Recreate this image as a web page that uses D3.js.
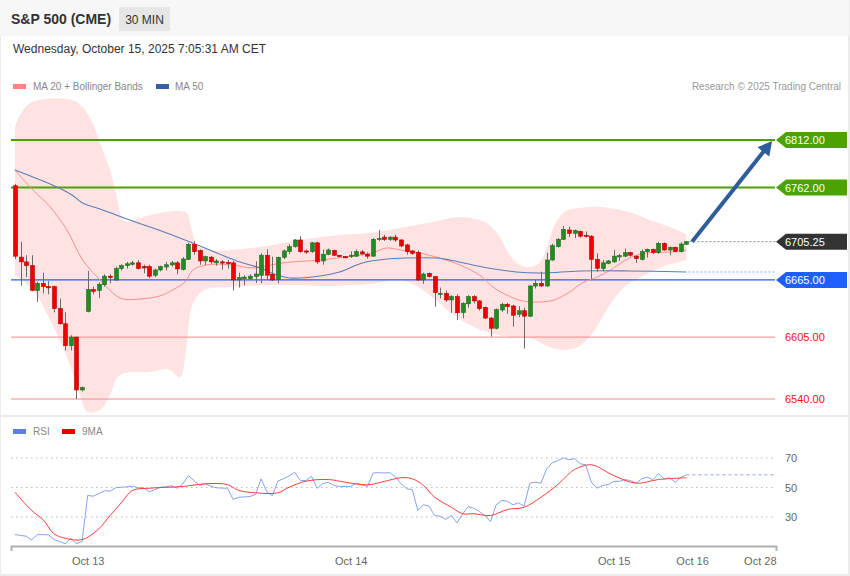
<!DOCTYPE html>
<html><head><meta charset="utf-8">
<script src="https://cdn.jsdelivr.net/npm/d3@7"></script>
<style>
html,body{margin:0;padding:0;background:#fff;}
svg{display:block;font-family:"Liberation Sans",Arial,sans-serif;}
</style></head><body>
<svg id="c" width="850" height="576"></svg>
<script>
// ---------- DATA ----------
const opens = [6764,6689,6684,6680,6654,6661.5,6658,6658,6635,6619,
6596,6605,6549.5,6632,6655,6654,6660,6669,6665,6677,
6680,6681.5,6683,6679,6679,6670,6675.5,6678.6,6680.8,6683,
6676,6686.6,6702.4,6695.8,6685,6689,6683,6684,6683.5,6683,
6665,6666.4,6666.4,6668.5,6670,6691,6671,6665.7,6688.8,6695,
6700,6707,6695.5,6694.7,6704,6685,6692,6696,6691,6689.5,
6690.5,6690,6694.5,6692,6690,6708,6710,6707.7,6710,6707,
6701.8,6695.5,6694,6665,6672,6668.5,6651,6651,6644,6647.5,
6630.7,6640,6647.5,6643,6636,6625,6614.3,6633.5,6639.5,6637.7,
6629,6632.7,6627,6658.7,6661.5,6658.7,6686,6700,6707.7,6717.5,
6714,6716,6712,6711,6686.7,6677,6682.5,6684,6690,6690,
6693.7,6690,6686.7,6694.7,6697,6693.7,6703.5,6696.5,6699.3,6694.7,6702.5];
const highs = [6766,6705,6691,6691,6663,6672.7,6664,6659,6645.5,6631,
6607,6605.5,6553,6674.5,6658,6662.6,6671,6671,6679,6681.5,
6684,6685,6686,6681,6681,6677,6680,6684,6685,6685,
6689,6704,6706,6697,6690.5,6690,6687,6686,6686,6685,
6672.6,6670,6671,6684.6,6693,6697,6689.5,6689.5,6697,6702.5,
6708,6711,6697,6705,6705,6697,6698,6697,6691,6690,
6695,6697,6696.5,6694,6709,6717.5,6712.5,6711,6712.5,6708,
6703,6696.5,6696,6672.6,6673,6669,6657,6654,6649,6650,
6641.5,6649,6649,6644,6637,6626,6635,6641,6641,6639,
6637.7,6636,6659.5,6665,6673.7,6693.7,6703,6709,6721.7,6721,
6718,6717,6716,6712,6693,6686,6686,6696.5,6692.5,6698,
6694.7,6691,6697,6698,6698,6705,6704.5,6700,6700,6704.5,6706];
const lows = [6687,6659,6668,6653,6642,6651,6650,6631,6618,6591,
6591,6540,6548,6631,6650,6646,6658,6661.5,6664,6675,
6677,6680,6676,6672,6667,6668,6674,6675,6679,6671,
6675,6686,6691.5,6681,6680.8,6682,6680,6676,6677,6654,
6657,6659.5,6665,6662,6661.5,6665,6664,6661.5,6687,6692,
6699,6693.5,6692.5,6693.5,6682,6681,6691,6690,6689,6688,
6688,6689,6691,6687.5,6689.5,6706,6706,6706,6705,6699.3,
6691.5,6691.5,6664,6661,6667.6,6637,6645.5,6642,6630.6,6623,
6624.8,6636,6640.5,6633,6624,6605.5,6613,6631.5,6629.5,6616,
6626,6593,6626,6656,6657.5,6657.5,6685,6699,6707,6710,
6709,6709.5,6709.5,6665.7,6673.7,6674,6681.5,6683,6685,6689,
6689.5,6683,6685.5,6688.5,6692.4,6692.4,6695.5,6691,6694,6694,6702];
const closes = [6690,6684,6680,6654,6661.5,6658,6657.5,6635,6619,6596,
6605,6549.5,6552,6655,6653,6660.5,6669,6667.5,6677,6680,
6682,6683,6677,6677.6,6669,6675.5,6679,6681,6683,6676.6,
6687,6702.4,6694.7,6685,6689.5,6684,6685,6683,6683,6665,
6667.6,6668,6669,6671.3,6691,6670,6665,6688.8,6695.5,6700,
6707,6694.7,6695,6704,6684,6692,6696.5,6691,6689.5,6689,
6691,6694.7,6692.4,6690,6707.7,6708.7,6707.7,6710,6707,6700.7,
6694.7,6693,6665,6671.3,6668.5,6651.7,6651,6644,6647.5,6630.6,
6640.5,6647.5,6643,6635,6625,6614.3,6634,6639.5,6637,6628,
6632.7,6627,6658.7,6661.5,6658.7,6686,6701,6707.7,6718.2,6714,
6716.8,6711,6711,6686.7,6677.3,6683,6685,6690,6690.5,6693.7,
6691,6687.4,6694.7,6697.2,6693.7,6703.5,6696.5,6699.3,6695,6702.8,6705.25];

// Moving averages / Bollinger bands (candle index position, price)
const ma20Pos = [0,3.2,6.3,9.3,12.1,15.2,17.5,19.3,22.3,25.9,28.2,30.4,31.8,34.3,38.9,42.5,47.9,54.5,60.4,63.9,66.4,68.8,72.3,75.9,79.5,83,85.4,87.9,90.7,93.8,96.4,99.1,101.4,104,106.3,109.8,112.9,117,120];
const ma20 = [6780.5,6759.5,6741.7,6717.5,6686,6665,6651.3,6645,6645,6648.2,6654.5,6663,6675.5,6680.8,6680.8,6677.6,6683,6686,6690.2,6693.4,6698.6,6696.5,6693.4,6688,6680.8,6670.3,6657.6,6649.2,6643,6641.9,6644,6652.4,6662,6668,6675,6688,6693.4,6694.4,6696.5];
const ma50Pos = [0,3.2,7.5,10.2,12.1,15.2,21,27.1,31.3,36.1,40.2,43.8,46.8,49.1,54.5,58,62.1,66.4,70,75.4,77.7,83.6,89.6,94.3,100.9,109.8,120];
const ma50 = [6780.5,6773.2,6762.7,6754.3,6745.9,6739.6,6727,6714.4,6704.9,6693.4,6683.9,6677.6,6670.3,6667.1,6669.2,6673.4,6682.9,6687,6688.1,6688.1,6686,6678.7,6673.4,6672.4,6674.5,6674.5,6673.4];
const upperPos = [0,0.9,2.7,5.4,9.3,11.1,12.1,13.9,15.2,17,18.2,19.1,20,22.3,25.9,29.5,30.7,31.6,32.5,34.8,43.8,50.9,58,63.4,68.8,74.6,79.5,83,84.8,86.6,88.4,90.2,92,93.8,95.2,96.4,98.2,100.9,104.5,109.8,113.4,117,120];
const upper = [6825.7,6838.3,6850.9,6855.1,6855.1,6852,6846.7,6829.9,6808.9,6780.5,6752.2,6731.2,6725.9,6730.1,6735.4,6737.5,6735.4,6717.5,6701.8,6696.5,6699.7,6707,6712.3,6714.4,6719.6,6726,6731.2,6728,6722.8,6710.2,6691.3,6680.8,6678.7,6684,6701.8,6722.8,6736.4,6740.6,6741.7,6736.4,6728,6720.7,6713];
const lowerPos = [0,3.2,6.3,9.3,11.6,13,15.2,17,18.2,19.6,24.1,27.5,29.5,30.7,31.3,32.1,33.9,38.4,47.3,56.3,63.4,68.8,71.4,74.1,77.7,81.3,84.8,88.4,92,95.5,98.2,100.9,103.6,106.3,108.9,112.5,116.1,120];
const lower = [6670,6654.5,6623,6584,6544,6526.3,6528.4,6544.2,6562.1,6567.3,6568.4,6571,6563,6598,6630,6643.5,6654.5,6657.6,6659.7,6658.7,6660.8,6665,6659.7,6649.2,6631.4,6617.7,6609.3,6605.1,6604,6594.6,6591.5,6595.7,6612.5,6638.7,6657.6,6670.3,6679.7,6686];

// Levels
const resistLevels = [6812, 6762];
const pivotLevel = 6665;
const supportLevels = [6605, 6540];
const lastPrice = 6705.25;
const arrowFrom = [121, 6705.25];
const arrowTo = [135.3, 6811];

// RSI
const rsi = [18.1,17.5,17,14.5,18.1,18,17.9,14.7,13.4,11.8,
15.6,11.8,13.4,44.6,44.1,45.8,47.8,47.5,49.8,50.2,
50.5,50.9,49.8,49.8,47.1,48.5,50.2,50.5,51.2,49.5,
52.5,58.1,54.7,51.4,52.5,50.9,49.8,49.6,49.5,41.9,
43.4,43.6,43.9,45.3,55.9,47.1,44.4,54.4,56,57.8,
60.3,54.7,54.7,57.6,49.5,52.5,53.6,51.4,50.7,50.7,
50.7,52.9,52,50.7,59.8,60.1,59.8,60.1,57.2,52.5,
49.1,48.6,34.4,38.3,37.3,31,30.5,28.3,31,26,
32.1,37.1,35.9,33.7,31,26.9,38.3,41.2,40.7,38.3,
39.6,37.3,52.9,53.6,52.9,62.6,66.7,68.2,70.1,68.8,
69.5,66.1,65.4,53.6,49.5,51.4,52,54.1,54.2,55.4,
54.7,52.9,55.9,57,55.3,59.3,55.9,56.6,53.6,57,58.6];
const rsiMaPos = [0,3,5,7,9,12,15,17,19,21,24,30,34,38,40,43,47,49,52,56,59,63,66,69,71,73,75,78,80,82,85,88,91,94,97,99,100,103,107,111,115,120];
const rsiMa = [46.8,34.4,28.3,18.6,15.6,14.7,22,31,39.6,48,49.5,50.7,52.5,52,48,46.4,46.4,50.2,54.3,55.4,53.6,51.8,54.1,56.6,55.9,51.4,43.4,36.6,32.2,32.2,31,35.1,36.6,43.4,52,59.3,62.2,65.4,58.1,52.9,55.4,56.6];
const rsiTicks = [70, 50, 30];

// X axis ticks (candle index positions)
const xTickPos = [13, 60, 107, 121, 136];
const xTickLabels = ["Oct 13", "Oct 14", "Oct 15", "Oct 16", "Oct 28"];

// ---------- DRAW ----------
const svg = d3.select("#c");
const W = 850, H = 576;
const X0 = 11, X1 = 776;

svg.append("rect").attr("width", W).attr("height", H).attr("fill", "#ebebeb");
svg.append("rect").attr("x", 0).attr("y", 0).attr("width", 849).attr("height", 36).attr("fill", "#f7f7f7");
svg.append("rect").attr("x", 1).attr("y", 36).attr("width", 847).attr("height", 379).attr("fill", "#fff");
svg.append("rect").attr("x", 1).attr("y", 417).attr("width", 847).attr("height", 157).attr("fill", "#fff");

// Header
svg.append("text").attr("x", 11).attr("y", 24).attr("font-size", 14).attr("font-weight", "bold")
  .attr("fill", "#333").text("S&P 500 (CME)");
svg.append("rect").attr("x", 119).attr("y", 7).attr("width", 51).attr("height", 24).attr("fill", "#e6e6e6");
svg.append("text").attr("x", 144.5).attr("y", 23.5).attr("font-size", 12).attr("text-anchor", "middle")
  .attr("fill", "#333").text("30 MIN");
svg.append("text").attr("x", 13).attr("y", 53).attr("font-size", 12).attr("fill", "#333")
  .text("Wednesday, October 15, 2025 7:05:31 AM CET");

// Legend
svg.append("rect").attr("x", 13).attr("y", 84).attr("width", 13).attr("height", 5).attr("fill", "#ff8585");
svg.append("text").attr("x", 33).attr("y", 90).attr("font-size", 10).attr("fill", "#888").text("MA 20 + Bollinger Bands");
svg.append("rect").attr("x", 156).attr("y", 84).attr("width", 13).attr("height", 5).attr("fill", "#33609f");
svg.append("text").attr("x", 175).attr("y", 90).attr("font-size", 10).attr("fill", "#888").text("MA 50");
svg.append("text").attr("x", 841).attr("y", 90).attr("font-size", 10).attr("fill", "#999")
  .attr("text-anchor", "end").text("Research \u00A9 2025 Trading Central");

// Scales
const x = d3.scaleLinear().domain([-0.7, 136]).range([X0, X1]);
const y = d3.scaleLinear().domain([6540, 6812]).range([399, 140]);
const yr = d3.scaleLinear().domain([30, 70]).range([517, 458]);

const curve = d3.curveCatmullRom.alpha(0.5);
const pline = d3.line().x(d => x(d[0])).y(d => y(d[1])).curve(curve);

// Bollinger band
const upPts = upperPos.map((p, i) => [p, upper[i]]);
const loPts = lowerPos.map((p, i) => [p, lower[i]]).reverse();
svg.append("path").attr("d", pline(upPts) + pline(loPts).replace(/^M/, "L") + "Z")
  .attr("fill", "#ffe3e3").attr("stroke", "none");

// Level lines
resistLevels.forEach(v => {
  svg.append("line").attr("x1", X0).attr("x2", X1 - 1).attr("y1", y(v)).attr("y2", y(v))
    .attr("stroke", "#4ca300").attr("stroke-width", 2);
});
svg.append("line").attr("x1", X0).attr("x2", X1 - 1).attr("y1", y(pivotLevel)).attr("y2", y(pivotLevel))
  .attr("stroke", "#1f5fff").attr("stroke-width", 1.2);
supportLevels.forEach(v => {
  svg.append("line").attr("x1", X0).attr("x2", X1 - 1).attr("y1", y(v)).attr("y2", y(v))
    .attr("stroke", "#f28a8a").attr("stroke-width", 1);
});

// MA lines
svg.append("path").attr("d", pline(ma20Pos.map((p, i) => [p, ma20[i]])))
  .attr("fill", "none").attr("stroke", "#ff8c8c").attr("stroke-width", 1);
svg.append("path").attr("d", pline(ma50Pos.map((p, i) => [p, ma50[i]])))
  .attr("fill", "none").attr("stroke", "#5a7db5").attr("stroke-width", 1.1);
// MA50 extension (dotted)
const lastIdx = closes.length - 1;
svg.append("line").attr("x1", x(lastIdx) + 2).attr("x2", X1).attr("y1", y(ma50[ma50.length - 1])).attr("y2", y(ma50[ma50.length - 1]))
  .attr("stroke", "#8fa8d8").attr("stroke-width", 1).attr("stroke-dasharray", "2,2");
// last price dotted
svg.append("line").attr("x1", x(lastIdx) + 3).attr("x2", X1).attr("y1", y(lastPrice)).attr("y2", y(lastPrice))
  .attr("stroke", "#888").attr("stroke-width", 1).attr("stroke-dasharray", "2,2");

// Candles
const cw = 4;
const cg = svg.append("g");
closes.forEach((c, i) => {
  const o = opens[i], up = c >= o;
  const cx = Math.round(x(i)) + 0.5;
  cg.append("line").attr("x1", cx).attr("x2", cx).attr("y1", y(highs[i])).attr("y2", y(lows[i]))
    .attr("stroke", "#6a6a6a").attr("stroke-width", 1);
  const top = y(Math.max(o, c)), bot = y(Math.min(o, c));
  cg.append("rect").attr("x", cx - cw / 2).attr("y", top).attr("width", cw).attr("height", Math.max(1.2, bot - top))
    .attr("fill", up ? "#228b22" : "#ee0000").attr("stroke", up ? "#1c6e1c" : "#b50000").attr("stroke-width", 0.6);
});

// Arrow
(function () {
  const x1 = x(arrowFrom[0]), y1 = y(arrowFrom[1]), x2 = x(arrowTo[0]), y2 = y(arrowTo[1]);
  const dx = x2 - x1, dy = y2 - y1, len = Math.hypot(dx, dy), ux = dx / len, uy = dy / len;
  const hl = 14, hw = 7.5;
  const bx = x2 - ux * hl, by = y2 - uy * hl;
  svg.append("line").attr("x1", x1).attr("y1", y1).attr("x2", bx + ux * 2).attr("y2", by + uy * 2)
    .attr("stroke", "#2f5d9c").attr("stroke-width", 4);
  svg.append("polygon").attr("points", [[x2, y2], [bx - uy * hw, by + ux * hw], [bx + uy * hw, by - ux * hw]].map(p => p.join(",")).join(" "))
    .attr("fill", "#2f5d9c");
})();

// Level labels
function tagLabel(v, fill) {
  const yy = y(v);
  svg.append("path").attr("d", `M${X1},${yy} L${X1 + 10},${yy - 8} L847,${yy - 8} L847,${yy + 8} L${X1 + 10},${yy + 8} Z`)
    .attr("fill", fill);
  svg.append("text").attr("x", 785).attr("y", yy + 4).attr("font-size", 11).attr("fill", "#fff").text(v.toFixed(2));
}
resistLevels.forEach(v => tagLabel(v, "#4ca300"));
tagLabel(lastPrice, "#333333");
tagLabel(pivotLevel, "#1f5fff");
supportLevels.forEach(v => {
  svg.append("text").attr("x", 785).attr("y", y(v) + 4).attr("font-size", 11).attr("fill", "#f01010").text(v.toFixed(2));
});

// ---------- RSI panel ----------
svg.append("rect").attr("x", 13).attr("y", 429).attr("width", 13).attr("height", 5).attr("fill", "#5c80e0");
svg.append("text").attr("x", 33).attr("y", 435).attr("font-size", 10).attr("fill", "#888").text("RSI");
svg.append("rect").attr("x", 62).attr("y", 429).attr("width", 13).attr("height", 5).attr("fill", "#ee0000");
svg.append("text").attr("x", 82).attr("y", 435).attr("font-size", 10).attr("fill", "#888").text("9MA");

rsiTicks.forEach(t => {
  svg.append("line").attr("x1", X0).attr("x2", X1).attr("y1", yr(t)).attr("y2", yr(t))
    .attr("stroke", "#bbb").attr("stroke-width", 1).attr("stroke-dasharray", "1.5,3.5");
  svg.append("text").attr("x", 785).attr("y", yr(t) + 4).attr("font-size", 11).attr("fill", "#666").text(t);
});

const rline = d3.line().x(d => x(d[0])).y(d => yr(d[1]));
svg.append("path").attr("d", rline(rsi.map((v, i) => [i, v])))
  .attr("fill", "none").attr("stroke", "#86a2ec").attr("stroke-width", 1);
svg.append("line").attr("x1", x(lastIdx)).attr("x2", X1).attr("y1", yr(rsi[lastIdx])).attr("y2", yr(rsi[lastIdx]))
  .attr("stroke", "#8aa6ee").attr("stroke-width", 1).attr("stroke-dasharray", "3,3");
svg.append("path").attr("d", d3.line().x(d => x(d[0])).y(d => yr(d[1])).curve(curve)(rsiMaPos.map((p, i) => [p, rsiMa[i]])))
  .attr("fill", "none").attr("stroke", "#ff3b3b").attr("stroke-width", 1);

// X axis
const axis = d3.axisBottom(x).tickValues(xTickPos).tickSizeInner(0).tickSizeOuter(5).tickPadding(11)
  .tickFormat((d, i) => xTickLabels[i]);
const ag = svg.append("g").attr("transform", "translate(0,546)").call(axis);
ag.select(".domain").attr("stroke", "#b0b0b0").attr("stroke-width", 2);
ag.selectAll("text").attr("font-size", 11).attr("fill", "#666").attr("font-family", "Liberation Sans, Arial, sans-serif");
ag.selectAll(".tick").filter((d, i) => i === xTickPos.length - 1).select("text").attr("text-anchor", "end");
</script>
</body></html>
